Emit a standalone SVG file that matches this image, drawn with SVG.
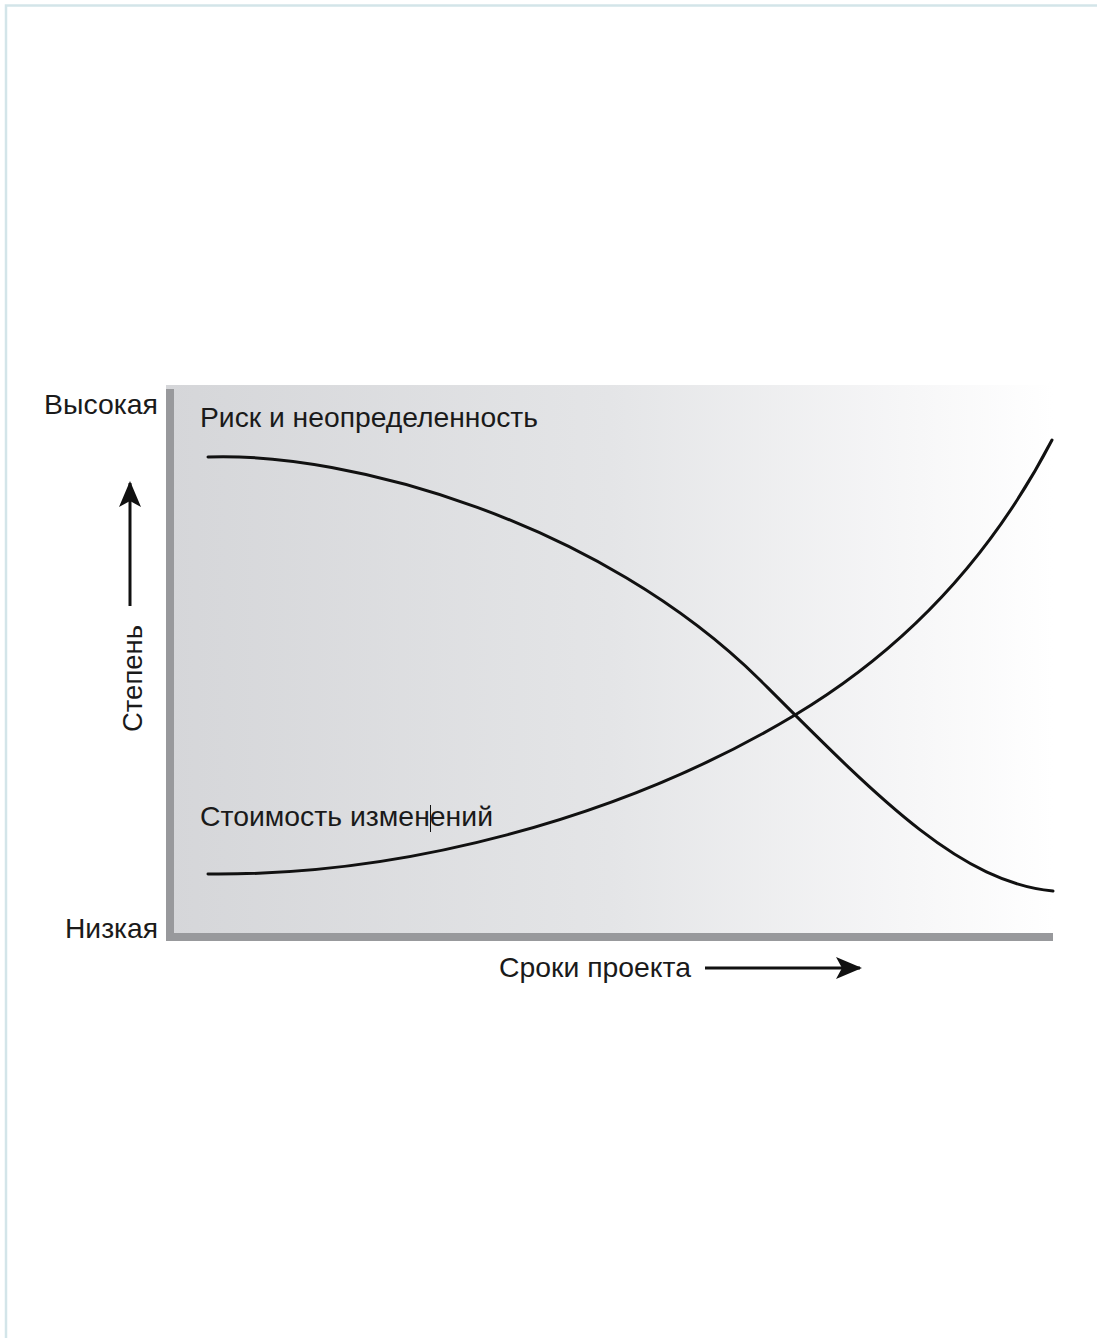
<svg xmlns="http://www.w3.org/2000/svg" width="1097" height="1338" viewBox="0 0 1097 1338">
  <defs>
    <linearGradient id="bg" x1="0" y1="0" x2="1" y2="0">
      <stop offset="0" stop-color="#d5d6d9"/>
      <stop offset="0.5" stop-color="#e4e5e7"/>
      <stop offset="0.85" stop-color="#f7f7f8"/>
      <stop offset="1" stop-color="#ffffff"/>
    </linearGradient>
    <marker id="ah" viewBox="0 0 26 22" refX="24" refY="11" markerWidth="26" markerHeight="22" markerUnits="userSpaceOnUse" orient="auto">
      <path d="M0,0 L26,11 L0,22 L6,11 Z" fill="#111"/>
    </marker>
    <style>
      .t { font-family: "Liberation Sans", Arial, sans-serif; font-size: 28px; fill: #1a1a1a; }
      .curve { fill: none; stroke: #111; stroke-width: 3; stroke-linecap: round; }
      .arr { stroke: #111; stroke-width: 3; fill: none; }
      .axis { fill: #98999c; }
    </style>
  </defs>
  <rect x="0" y="0" width="1097" height="1338" fill="#ffffff"/>
  <g id="frame">
    <path d="M6,1338 L6,5.5 L1097,5.5" fill="none" stroke="#d3e5e9" stroke-width="2.5"/>
  </g>
  <g id="chart">
    <rect x="166" y="385" width="887" height="556" fill="url(#bg)"/>
    <rect class="axis" x="166" y="389" width="8" height="552"/>
    <rect class="axis" x="166" y="933" width="887" height="8"/>
  </g>
  <g id="labels">
    <text class="t" x="44" y="414" textLength="114" lengthAdjust="spacingAndGlyphs">Высокая</text>
    <text class="t" x="65" y="938" textLength="93" lengthAdjust="spacingAndGlyphs">Низкая</text>
    <text class="t" x="142" y="732" transform="rotate(-90 142 732)" textLength="107" lengthAdjust="spacingAndGlyphs">Степень</text>
    <text class="t" x="499" y="977" textLength="192" lengthAdjust="spacingAndGlyphs">Сроки проекта</text>
  </g>
  <g id="risk">
    <path class="curve" d="M208,457 C350,452 600,522 760,680 C880,800 960,882 1053,891"/>
    <text class="t" x="200" y="427" textLength="338" lengthAdjust="spacingAndGlyphs">Риск и неопределенность</text>
  </g>
  <g id="cost">
    <path class="curve" d="M208,874 C400,876 620,820 795,715 C920,640 1000,540 1052,440"/>
    <text class="t" x="200" y="826" textLength="293" lengthAdjust="spacingAndGlyphs">Стоимость изменений</text>
    <line x1="430.5" y1="805" x2="430.5" y2="832" stroke="#111" stroke-width="1"/>
  </g>
  <g id="connectors">
    <line class="arr" x1="130" y1="606" x2="130" y2="483" marker-end="url(#ah)"/>
    <line class="arr" x1="705" y1="968" x2="860" y2="968" marker-end="url(#ah)"/>
  </g>
</svg>
